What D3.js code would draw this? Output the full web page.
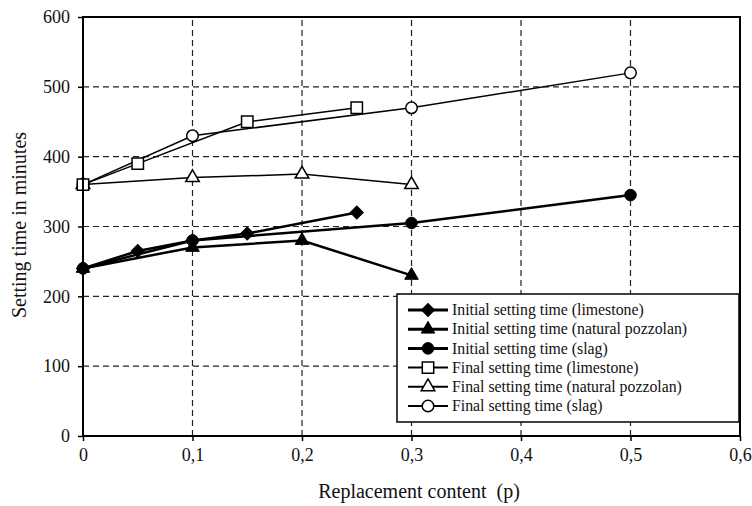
<!DOCTYPE html>
<html>
<head>
<meta charset="utf-8">
<script src="https://cdn.jsdelivr.net/npm/d3@7"></script>
<style>
  body { margin: 0; background: #fff; }
  text { font-family: "Liberation Serif", "Times New Roman", serif; fill: #111; }
</style>
</head>
<body>
<svg id="chart"></svg>
<script>
const width = 752;
const height = 506;
const margin = {left: 83, right: 12, top: 17, bottom: 70};

// x ticks and labels (comma decimal)
const xTicks = [0, 0.1, 0.2, 0.3, 0.4, 0.5, 0.6];
const xTickLabels = ["0", "0,1", "0,2", "0,3", "0,4", "0,5", "0,6"];
const yTicks = [0, 100, 200, 300, 400, 500, 600];

// series values
const initLimestoneX = [0, 0.05, 0.1, 0.15, 0.25];
const initLimestoneY = [240, 265, 280, 290, 320];
const initPozzolanX = [0, 0.1, 0.2, 0.3];
const initPozzolanY = [240, 270, 280, 230];
const initSlagX = [0, 0.1, 0.3, 0.5];
const initSlagY = [240, 280, 305, 345];
const finalLimestoneX = [0, 0.05, 0.15, 0.25];
const finalLimestoneY = [360, 390, 450, 470];
const finalPozzolanX = [0, 0.1, 0.2, 0.3];
const finalPozzolanY = [360, 370, 375, 360];
const finalSlagX = [0, 0.1, 0.3, 0.5];
const finalSlagY = [360, 430, 470, 520];

const seriesNames = [
    "Initial setting time (limestone)",
    "Initial setting time (natural pozzolan)",
    "Initial setting time (slag)",
    "Final setting time (limestone)",
    "Final setting time (natural pozzolan)",
    "Final setting time (slag)"
];

const series = [
    {name: seriesNames[0], xs: initLimestoneX, ys: initLimestoneY, shape: "diamond", filled: true, lw: 2.5},
    {name: seriesNames[1], xs: initPozzolanX, ys: initPozzolanY, shape: "triangle", filled: true, lw: 2.5},
    {name: seriesNames[2], xs: initSlagX, ys: initSlagY, shape: "circle", filled: true, lw: 2.5},
    {name: seriesNames[3], xs: finalLimestoneX, ys: finalLimestoneY, shape: "square", filled: false, lw: 1.5},
    {name: seriesNames[4], xs: finalPozzolanX, ys: finalPozzolanY, shape: "triangle", filled: false, lw: 1.5},
    {name: seriesNames[5], xs: finalSlagX, ys: finalSlagY, shape: "circle", filled: false, lw: 1.5}
];

const svg = d3.select("#chart")
    .attr("width", width)
    .attr("height", height);

const x = d3.scaleLinear().domain([0, 0.6]).range([margin.left, width - margin.right]);
const y = d3.scaleLinear().domain([0, 600]).range([height - margin.bottom, margin.top]);

// dashed grid
svg.append("g")
    .selectAll("line")
    .data(yTicks.filter(d => d > 0 && d < 600))
    .enter().append("line")
    .attr("x1", x(0)).attr("x2", x(0.6))
    .attr("y1", d => y(d)).attr("y2", d => y(d))
    .attr("stroke", "#222").attr("stroke-width", 1.2)
    .attr("stroke-dasharray", "6,4");

svg.append("g")
    .selectAll("line")
    .data(xTicks.filter(d => d > 0 && d < 0.6))
    .enter().append("line")
    .attr("x1", d => x(d)).attr("x2", d => x(d))
    .attr("y1", y(0)).attr("y2", y(600))
    .attr("stroke", "#222").attr("stroke-width", 1.2)
    .attr("stroke-dasharray", "6,4");

function symbolPath(shape) {
    if (shape === "diamond") return d3.symbol().type(d3.symbolSquare).size(85)();
    if (shape === "triangle") return d3.symbol().type(d3.symbolTriangle).size(80)();
    if (shape === "square") return d3.symbol().type(d3.symbolSquare).size(130)();
    return d3.symbol().type(d3.symbolCircle).size(105)();
}

function drawMarker(g, s, px, py) {
    g.append("path")
        .attr("d", symbolPath(s.shape))
        .attr("transform", `translate(${px},${py})` + (s.shape === "diamond" ? " rotate(45)" : ""))
        .attr("fill", s.filled ? "#000" : "#fff")
        .attr("stroke", "#000")
        .attr("stroke-width", s.filled ? 1 : 1.5);
}

const line = d3.line().x(d => x(d[0])).y(d => y(d[1]));

series.forEach(s => {
    const pts = s.xs.map((v, i) => [v, s.ys[i]]);
    svg.append("path")
        .datum(pts)
        .attr("d", line)
        .attr("fill", "none")
        .attr("stroke", "#000")
        .attr("stroke-width", s.lw);
});

series.slice().reverse().forEach(s => {
    const g = svg.append("g");
    s.xs.forEach((v, i) => drawMarker(g, s, x(v), y(s.ys[i])));
});

// legend
const legend = svg.append("g");
legend.append("rect")
    .attr("x", 397).attr("y", 294)
    .attr("width", 342).attr("height", 128)
    .attr("fill", "#fff")
    .attr("stroke", "#000")
    .attr("stroke-width", 1.5);

series.forEach((s, i) => {
    const ly = 310 + i * 19.2;
    legend.append("line")
        .attr("x1", 408).attr("x2", 448)
        .attr("y1", ly).attr("y2", ly)
        .attr("stroke", "#000")
        .attr("stroke-width", s.lw + 0.5);
    drawMarker(legend, s, 428, ly);
    legend.append("text")
        .attr("x", 452).attr("y", ly)
        .attr("dy", "0.33em")
        .attr("font-size", 15.8)
        .text(s.name);
});

// axes
svg.append("g")
    .attr("transform", `translate(0,${y(0)})`)
    .call(d3.axisBottom(x).tickValues(xTicks).tickFormat((d, i) => xTickLabels[i]).tickSize(5).tickPadding(7))
    .call(g => g.select(".domain").remove())
    .call(g => g.selectAll("line").attr("stroke", "#000").attr("stroke-width", 1.5))
    .call(g => g.selectAll("text").attr("font-size", 18).attr("font-family", "Liberation Serif").attr("fill", "#111"));

svg.append("g")
    .attr("transform", `translate(${x(0)},0)`)
    .call(d3.axisLeft(y).tickValues(yTicks).tickSize(5).tickPadding(8))
    .call(g => g.select(".domain").remove())
    .call(g => g.selectAll("line").attr("stroke", "#000").attr("stroke-width", 1.5))
    .call(g => g.selectAll("text").attr("font-size", 18).attr("font-family", "Liberation Serif").attr("fill", "#111"));

// frame
svg.append("rect")
    .attr("x", x(0)).attr("y", y(600))
    .attr("width", x(0.6) - x(0)).attr("height", y(0) - y(600))
    .attr("fill", "none")
    .attr("stroke", "#000")
    .attr("stroke-width", 2);

// axis titles
svg.append("text")
    .attr("x", 419)
    .attr("y", 498)
    .attr("text-anchor", "middle")
    .attr("font-size", 20)
    .attr("xml:space", "preserve")
    .text("Replacement content  (p)");

svg.append("text")
    .attr("transform", `translate(26,225) rotate(-90)`)
    .attr("text-anchor", "middle")
    .attr("font-size", 20)
    .text("Setting time in minutes");
</script>
</body>
</html>
